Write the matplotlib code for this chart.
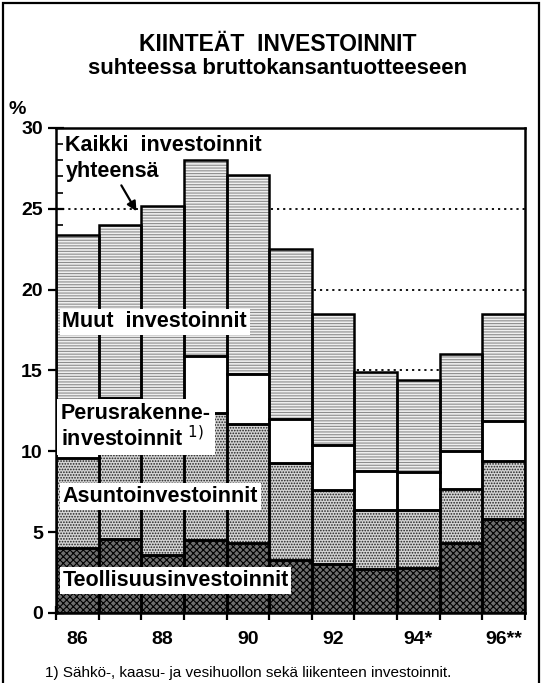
import matplotlib.pyplot as plt
import numpy as np
from matplotlib.patches import Rectangle

plt.rcParams['font.family'] = ['Liberation Sans', 'DejaVu Sans']
plt.rcParams['hatch.linewidth'] = 0.8

# Kiinteät investoinnit, % BKT:sta
years = ['86', '87', '88', '89', '90', '91', '92', '93', '94', '95', '96']
year_labels = ['86', '', '88', '', '90', '', '92', '', '94*', '', '96**']
teollisuus = [4.0, 4.6, 3.6, 4.5, 4.3, 3.3, 3.0, 2.7, 2.8, 4.3, 5.8]
asunto = [5.6, 5.7, 6.5, 7.9, 7.4, 6.0, 4.6, 3.7, 3.6, 3.4, 3.6]
perusrakenne = [3.4, 3.0, 2.9, 3.5, 3.1, 2.7, 2.8, 2.4, 2.3, 2.3, 2.5]
muut = [10.4, 10.7, 12.2, 12.1, 12.3, 10.5, 8.1, 6.1, 5.7, 6.0, 6.6]

fig = plt.figure(figsize=(5.42, 6.83), dpi=100)
ax = fig.add_axes([0.1033, 0.1025, 0.8653, 0.7101])

x = np.arange(len(years))
# (values, face colour, hatch, hatch colour)
layers = [
    (teollisuus, '#6e6e6e', 'xxxxx', 'black'),
    (asunto, '#d4d4d4', '......', '#202020'),
    (perusrakenne, 'white', None, 'white'),
    (muut, '#efefef', '------', '#8c8c8c'),
]
bottom = np.zeros(len(years))
for values, color, hatch, hcolor in layers:
    # filled pattern first, then the black outline on top
    ax.bar(x, values, width=1.0, bottom=bottom, color=color, hatch=hatch,
           edgecolor=hcolor, linewidth=0, zorder=2)
    ax.bar(x, values, width=1.0, bottom=bottom, fill=False,
           edgecolor='black', linewidth=1.8, zorder=3)
    bottom += np.array(values)

# dotted guide lines behind the bars
for level in [5, 10, 15, 20, 25]:
    ax.axhline(level, color='black', linestyle=(0, (1.2, 2.2)),
               linewidth=1.3, zorder=1)

ax.set_xlim(-0.5, 10.5)
ax.set_ylim(0, 30)

ax.set_yticks(range(0, 31, 5))
ax.set_yticks(range(0, 31), minor=True)
ax.tick_params(axis='y', which='major', direction='inout', length=11,
               width=1.6, labelsize=14, pad=4)
ax.tick_params(axis='y', which='minor', direction='in', length=5, width=1.2)
for lab in ax.get_yticklabels():
    lab.set_fontweight('bold')

ax.set_xticks(np.arange(-0.5, 11, 1.0))
ax.set_xticklabels([])
ax.set_xticks(x, minor=True)
ax.set_xticklabels(year_labels, minor=True, fontsize=14, fontweight='bold')
ax.tick_params(axis='x', which='major', direction='inout', length=10,
               width=1.6)
ax.tick_params(axis='x', which='minor', length=0, pad=13)

for side in ['left', 'top', 'right', 'bottom']:
    ax.spines[side].set_linewidth(1.8)
    ax.spines[side].set_zorder(4)

ax.text(-1.42, 30.6, '%', fontsize=14, fontweight='bold', ha='center',
        va='bottom')

box = dict(facecolor='white', edgecolor='none', pad=2)
ax.text(-0.28, 28.9, 'Kaikki  investoinnit', fontsize=15.5,
        fontweight='bold', va='center', ha='left', zorder=5)
ax.text(-0.28, 27.3, 'yhteensä', fontsize=15.5, fontweight='bold',
        va='center', ha='left', zorder=5)
ax.annotate('', xy=(1.42, 24.7), xytext=(1.0, 26.6),
            arrowprops=dict(arrowstyle='-|>', color='black', lw=1.6,
                            mutation_scale=14), zorder=5)

ax.text(-0.35, 18.0, 'Muut  investoinnit', fontsize=15.5, fontweight='bold',
        va='center', ha='left', bbox=box, zorder=5)
ax.text(-0.38, 11.5, 'Perusrakenne-\ninvestoinnit $^{1)}$', fontsize=15.5,
        fontweight='bold', va='center', ha='left', linespacing=1.1,
        bbox=dict(facecolor='white', edgecolor='none', pad=3), zorder=5)
ax.text(-0.35, 7.2, 'Asuntoinvestoinnit', fontsize=15.5, fontweight='bold',
        va='center', ha='left', bbox=box, zorder=5)
ax.text(-0.35, 2.0, 'Teollisuusinvestoinnit', fontsize=15.5,
        fontweight='bold', va='center', ha='left', bbox=box, zorder=5)

fig.text(0.513, 0.935, 'KIINTEÄT  INVESTOINNIT', fontsize=16.5,
         fontweight='bold', ha='center', va='center')
fig.text(0.513, 0.899, 'suhteessa bruttokansantuotteeseen', fontsize=16,
         fontweight='bold', ha='center', va='center')
fig.text(0.083, 0.015, '1) Sähkö-, kaasu- ja vesihuollon sekä liikenteen '
         'investoinnit.', fontsize=11, ha='left', va='center')

fig.patches.append(Rectangle((0.006, -0.02), 0.988, 1.015,
                             transform=fig.transFigure, fill=False,
                             edgecolor='black', linewidth=1.6))

fig.savefig('out.png', dpi=100)
